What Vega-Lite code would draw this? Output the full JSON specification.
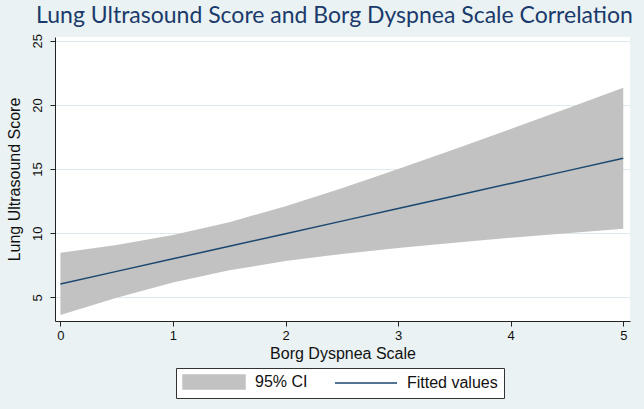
{
  "$schema": "https://vega.github.io/schema/vega-lite/v6.json",
  "autosize": {"type": "none"},
  "width": 575,
  "height": 284,
  "padding": {"left": 55, "top": 37, "right": 14, "bottom": 88},
  "background": "#eaf2f3",
  "view": {"fill": "white", "stroke": null},
  "title": {
    "text": "Lung Ultrasound Score and Borg Dyspnea Scale Correlation",
    "font": "Lato",
    "fontSize": 23,
    "fontWeight": "normal",
    "color": "#1a3a6b",
    "anchor": "middle",
    "offset": 6,
    "dx": -8
  },
  "data": {
    "values": [
      {"x": 0, "fit": 6.04, "lo": 3.61, "hi": 8.47},
      {"x": 0.5, "fit": 7.02, "lo": 4.97, "hi": 9.07},
      {"x": 1, "fit": 8.0, "lo": 6.15, "hi": 9.85},
      {"x": 1.5, "fit": 8.98, "lo": 7.1, "hi": 10.86},
      {"x": 2, "fit": 9.96, "lo": 7.82, "hi": 12.1},
      {"x": 2.5, "fit": 10.94, "lo": 8.38, "hi": 13.5},
      {"x": 3, "fit": 11.92, "lo": 8.84, "hi": 15.0},
      {"x": 3.5, "fit": 12.9, "lo": 9.26, "hi": 16.54},
      {"x": 4, "fit": 13.88, "lo": 9.64, "hi": 18.12},
      {"x": 4.5, "fit": 14.86, "lo": 10.0, "hi": 19.73},
      {"x": 5, "fit": 15.84, "lo": 10.34, "hi": 21.34}
    ]
  },
  "config": {
    "font": "Liberation Sans",
    "axis": {
      "domainColor": "#222",
      "tickColor": "#222",
      "tickSize": 5,
      "labelColor": "#111",
      "titleColor": "#111",
      "labelFontSize": 13,
      "titleFontSize": 16,
      "titleFontWeight": "normal",
      "labelFont": "Liberation Sans",
      "titleFont": "Liberation Sans"
    }
  },
  "encoding": {
    "x": {
      "field": "x",
      "type": "quantitative",
      "scale": {"domain": [-0.048, 5.06], "nice": false, "zero": false},
      "axis": {"values": [0, 1, 2, 3, 4, 5], "grid": false, "title": "Borg Dyspnea Scale", "labelPadding": 3, "titlePadding": 3, "format": "d"}
    }
  },
  "layer": [
    {
      "mark": {"type": "area", "opacity": 1},
      "encoding": {
        "y": {
          "field": "lo",
          "type": "quantitative",
          "scale": {"domain": [3.15, 25.3], "nice": false, "zero": false},
          "axis": {"values": [5, 10, 15, 20, 25], "grid": true, "gridColor": "#e0eaee", "gridWidth": 1, "title": "Lung Ultrasound Score", "labelAngle": -90, "labelAlign": "center", "labelBaseline": "bottom", "labelPadding": 6, "titlePadding": 9, "format": "d"}
        },
        "y2": {"field": "hi"},
        "color": {
          "datum": "95% CI",
          "type": "nominal",
          "scale": {"domain": ["95% CI", "Fitted values"], "range": ["#c2c2c2", "#1a476f"]},
          "legend": {
            "title": null,
            "orient": "none",
            "legendX": 121,
            "legendY": 331,
            "direction": "horizontal",
            "strokeColor": "#333",
            "fillColor": "white",
            "padding": 6,
            "columnPadding": 24,
            "labelFontSize": 16,
            "labelFont": "Liberation Sans",
            "labelColor": "#111",
            "labelOffset": 57,
            "symbolSize": 196,
            "symbolStrokeWidth": 1.5,
            "symbolType": "M-1,-1H7.857V1H-1Z",
            "encoding": {
              "symbols": {
                "shape": {"condition": {"test": "datum.value === '95% CI'", "value": "M-1,-1H7.857V1H-1Z"}, "value": "M-1,0H7.857"},
                "fill": {"condition": {"test": "datum.value === '95% CI'", "value": "#c2c2c2"}, "value": "transparent"},
                "stroke": {"condition": {"test": "datum.value === '95% CI'", "value": "transparent"}, "value": "#1a476f"},
                "strokeWidth": {"value": 1.5},
                "opacity": {"value": 1}
              }
            }
          }
        }
      }
    },
    {
      "mark": {"type": "line", "strokeWidth": 1.5},
      "encoding": {
        "y": {"field": "fit", "type": "quantitative"},
        "color": {"datum": "Fitted values", "type": "nominal"}
      }
    }
  ]
}
